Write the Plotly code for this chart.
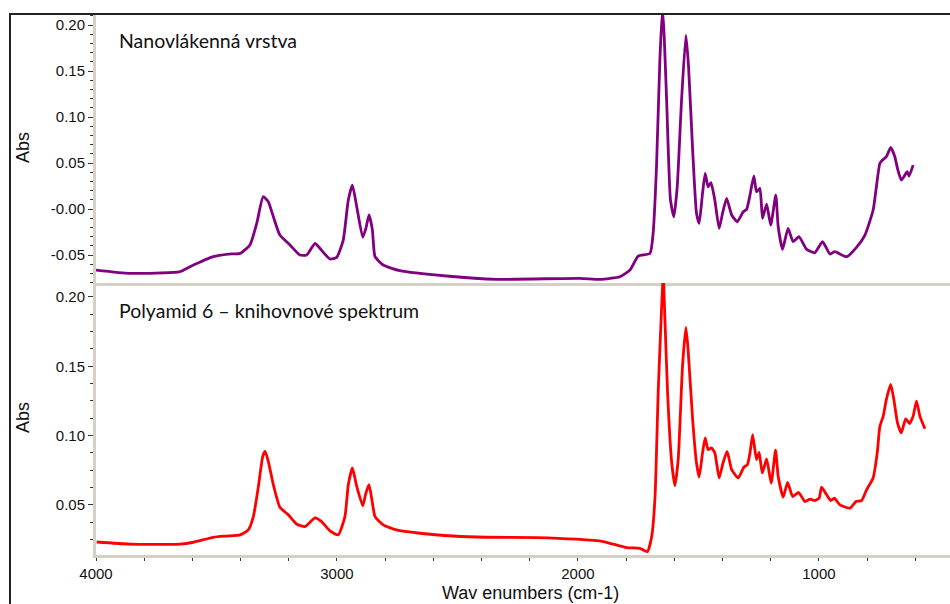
import plotly.graph_objects as go

# ---- Data ----
nano_wn = [4000, 3859, 3651, 3610, 3514, 3450, 3402, 3361, 3333, 3306, 3285, 3264, 3237, 3195, 3154,
           3126, 3091, 3071, 3029, 3001, 2974, 2953, 2936, 2918, 2893, 2880, 2867, 2853, 2842, 2808,
           2739, 2545, 2337, 1992, 1909, 1826, 1784, 1750, 1701, 1688, 1674, 1660, 1649, 1642, 1632,
           1616, 1602, 1588, 1570, 1552, 1541, 1524, 1508, 1497, 1483, 1472, 1460, 1448, 1432, 1414,
           1400, 1383, 1362, 1339, 1314, 1300, 1286, 1270, 1259, 1245, 1234, 1217, 1200, 1179, 1169,
           1151, 1128, 1107, 1083, 1051, 1017, 985, 954, 934, 885, 844, 809, 775, 747, 736, 720, 702,
           685, 674, 658, 643, 634, 626, 609]
nano_abs = [-0.0663, -0.0699, -0.0680, -0.0627, -0.0518, -0.0490, -0.0482, -0.0390, -0.0156, 0.0134,
            0.0080, -0.0084, -0.0283, -0.0390, -0.0500, -0.0500, -0.0373, -0.0427, -0.0543, -0.0525,
            -0.0337, 0.0098, 0.0260, 0.0025, -0.0308, -0.0210, -0.0065, -0.0228, -0.0518, -0.0609,
            -0.0670, -0.0728, -0.0764, -0.0753, -0.0765, -0.0736, -0.0663, -0.0511, -0.0482, -0.0264,
            0.0460, 0.1620, 0.2180, 0.1873, 0.1185, 0.0098, -0.0084, 0.0242, 0.1185, 0.1890, 0.1547,
            0.0641, -0.0047, -0.0156, 0.0170, 0.0388, 0.0242, 0.0286, 0.0098, -0.0210, -0.0047, 0.0116,
            -0.0065, -0.0138, -0.0030, -0.0004, 0.0152, 0.0359, 0.0188, 0.0225, -0.0101, 0.0054,
            -0.0174, 0.0152, -0.0192, -0.0438, -0.0210, -0.0355, -0.0301, -0.0438, -0.0475, -0.0355,
            -0.0489, -0.0464, -0.0518, -0.0417, -0.0283, -0.0011, 0.0497, 0.0533, 0.0569, 0.0670,
            0.0569, 0.0442, 0.0315, 0.0370, 0.0406, 0.0359, 0.0478]

pa6_wn = [3997, 3859, 3651, 3596, 3513, 3458, 3402, 3368, 3347, 3326, 3308, 3298, 3285, 3264, 3237,
          3202, 3168, 3133, 3091, 3064, 3029, 2995, 2967, 2953, 2936, 2918, 2893, 2880, 2867, 2853,
          2842, 2808, 2753, 2656, 2518, 2380, 2172, 2006, 1895, 1798, 1743, 1712, 1694, 1680, 1667,
          1656, 1646, 1639, 1628, 1612, 1598, 1584, 1566, 1552, 1543, 1524, 1508, 1497, 1483, 1472,
          1460, 1446, 1432, 1414, 1398, 1381, 1362, 1335, 1311, 1297, 1286, 1275, 1259, 1248, 1235,
          1217, 1198, 1180, 1169, 1148, 1130, 1109, 1084, 1058, 1037, 1017, 999, 989, 968, 951, 936,
          913, 871, 846, 823, 802, 775, 758, 747, 733, 720, 702, 689, 674, 658, 640, 624, 609, 595,
          581, 560]
pa6_abs = [0.0232, 0.0217, 0.0217, 0.0230, 0.0266, 0.0275, 0.0283, 0.0319, 0.0415, 0.0633, 0.0850,
           0.0886, 0.0814, 0.0645, 0.0483, 0.0428, 0.0362, 0.0343, 0.0406, 0.0379, 0.0312, 0.0283,
           0.0415, 0.0645, 0.0766, 0.0633, 0.0493, 0.0585, 0.0645, 0.0513, 0.0415, 0.0355, 0.0319,
           0.0295, 0.0275, 0.0266, 0.0264, 0.0252, 0.0235, 0.0191, 0.0186, 0.0162, 0.0270, 0.0560,
           0.1310, 0.1792, 0.2150, 0.1840, 0.1310, 0.0826, 0.0638, 0.0826, 0.1502, 0.1780, 0.1623,
           0.1116, 0.0802, 0.0701, 0.0875, 0.0983, 0.0899, 0.0911, 0.0875, 0.0694, 0.0802, 0.0886,
           0.0754, 0.0694, 0.0773, 0.0790, 0.0875, 0.1007, 0.0826, 0.0879, 0.0730, 0.0831, 0.0657,
           0.0894, 0.0705, 0.0556, 0.0662, 0.0560, 0.0589, 0.0524, 0.0541, 0.0531, 0.0548, 0.0628,
           0.0573, 0.0531, 0.0548, 0.0500, 0.0476, 0.0524, 0.0531, 0.0609, 0.0694, 0.0875, 0.1067,
           0.1140, 0.1261, 0.1370, 0.1261, 0.1092, 0.1020, 0.1121, 0.1087, 0.1140, 0.1249, 0.1140,
           0.1049]

x_ticks = [4000, 3000, 2000, 1000]
top_ticks = [0.20, 0.15, 0.10, 0.05, 0.0, -0.05]
top_ticktext = ["0.20", "0.15", "0.10", "0.05", "-0.00", "-0.05"]
bot_ticks = [0.20, 0.15, 0.10, 0.05]
bot_ticktext = ["0.20", "0.15", "0.10", "0.05"]

label_top = "Nanovlákenná vrstva"
label_bot = "Polyamid 6 – knihovnové spektrum"
x_title = "Wav enumbers (cm-1)"
y_title = "Abs"

# ---- Figure ----
W, H = 950, 604
ML, MR, MT, MB = 96, 0, 14, 49
pw, ph = W - ML - MR, H - MT - MB
split = (H - MB - 283) / ph

fig = go.Figure()
fig.add_trace(go.Scatter(x=nano_wn, y=nano_abs, mode="lines", xaxis="x", yaxis="y",
                         line=dict(color="#800080", width=2.8, shape="spline", smoothing=0.5),
                         showlegend=False))
fig.add_trace(go.Scatter(x=pa6_wn, y=pa6_abs, mode="lines", xaxis="x2", yaxis="y2",
                         line=dict(color="#ff0000", width=2.8, shape="spline", smoothing=0.5),
                         showlegend=False))

axis_grey = "#d4d0c8"
tick_font = dict(family="Liberation Sans, Arial, sans-serif", size=15, color="#111111")

common_x = dict(range=[4000, 456], showgrid=False, zeroline=False, showline=True,
                linecolor=axis_grey, linewidth=3)
fig.update_layout(
    width=W, height=H,
    margin=dict(l=ML, r=MR, t=MT, b=MB),
    paper_bgcolor="white", plot_bgcolor="white",
    xaxis=dict(domain=[0, 1], anchor="y", showticklabels=False, ticks="", **common_x),
    xaxis2=dict(domain=[0, 1], anchor="y2", tickvals=x_ticks, ticktext=[str(v) for v in x_ticks],
                ticks="outside", ticklen=3, tickcolor="#333333", tickwidth=1,
                minor=dict(dtick=200, tick0=0, ticks="outside", ticklen=3, tickcolor="#333333"),
                tickfont=tick_font, **common_x),
    yaxis=dict(domain=[split, 1], anchor="x", range=[-0.0804, 0.212], tickvals=top_ticks,
               ticktext=top_ticktext, ticks="outside", ticklen=5, tickcolor="#333333",
               minor=dict(dtick=0.01, tick0=0, ticks="outside", ticklen=3, tickcolor="#333333"),
               tickfont=tick_font, showgrid=False, zeroline=False, showline=True,
               linecolor=axis_grey, linewidth=3),
    yaxis2=dict(domain=[0, split], anchor="x2", range=[0.0138, 0.2101], tickvals=bot_ticks,
                ticktext=bot_ticktext, ticks="outside", ticklen=5, tickcolor="#333333",
                minor=dict(dtick=0.0125, tick0=0, ticks="outside", ticklen=3, tickcolor="#333333"),
                tickfont=tick_font, showgrid=False, zeroline=False, showline=True,
                linecolor=axis_grey, linewidth=3),
)

ann_font = dict(family="Lato, Noto Sans, sans-serif", size=19.5, color="#111111")
title_font = dict(family="Liberation Sans, Arial, sans-serif", size=18, color="#111111")

def px_x(px):
    return (px - ML) / pw

def px_y(py):
    return (H - MB - py) / ph

fig.add_annotation(text=label_top, xref="paper", yref="paper", x=px_x(117), y=px_y(41),
                   xanchor="left", yanchor="middle", showarrow=False, font=ann_font)
fig.add_annotation(text=label_bot, xref="paper", yref="paper", x=px_x(117), y=px_y(310),
                   xanchor="left", yanchor="middle", showarrow=False, font=ann_font)
fig.add_annotation(text=y_title, xref="paper", yref="paper", x=px_x(23), y=px_y(148),
                   xanchor="center", yanchor="middle", showarrow=False, textangle=-90,
                   font=title_font)
fig.add_annotation(text=y_title, xref="paper", yref="paper", x=px_x(23), y=px_y(418),
                   xanchor="center", yanchor="middle", showarrow=False, textangle=-90,
                   font=title_font)
fig.add_annotation(text=x_title, xref="paper", yref="paper", x=px_x(530), y=px_y(593),
                   xanchor="center", yanchor="middle", showarrow=False, font=title_font)

# outer frame (top and left dark border)
fig.add_shape(type="line", xref="paper", yref="paper", x0=px_x(9), x1=1.0, y0=px_y(14), y1=px_y(14),
              line=dict(color="#222222", width=2))
fig.add_shape(type="line", xref="paper", yref="paper", x0=px_x(10), x1=px_x(10), y0=px_y(14), y1=px_y(606),
              line=dict(color="#222222", width=2))

fig.write_html("out.html")
